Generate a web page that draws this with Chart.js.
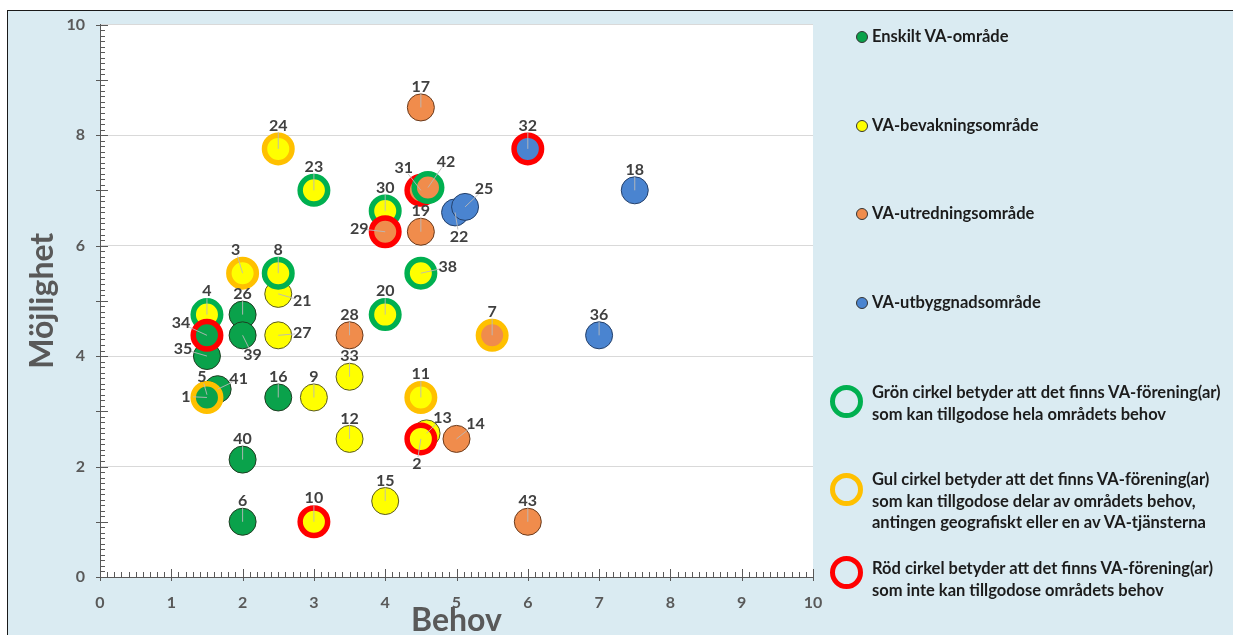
<!DOCTYPE html>
<html lang="sv">
<head>
<meta charset="UTF-8">
<title>Behov och möjlighet</title>
<script src="https://cdn.jsdelivr.net/npm/chart.js"></script>
<style>
  body { margin: 0; width: 1233px; height: 635px; overflow: hidden; background: #fff; position: relative; font-family: Lato, sans-serif; }
  #ram { position: absolute; left: 7px; top: 10px; width: 1240px; height: 640px; border: 1.5px solid #1a1a1a; background: #daebf2; }
  #wrap { position: absolute; left: 0; top: 0; width: 1233px; height: 635px; }
  .leg { position: absolute; left: 872px; font-weight: bold; font-size: 16.5px; color: #1c1c1c; line-height: 21.5px; white-space: nowrap; }
  .dot { position: absolute; left: 856px; width: 10px; height: 10px; border-radius: 50%; border: 1px solid #333; }
  .ring { position: absolute; left: 830px; width: 23px; height: 23px; border-radius: 50%; border: 5px solid; }
</style>
</head>
<body>
<div id="ram"></div>
<div id="wrap"><canvas id="diagram"></canvas></div>

<!-- förklaringar -->
<div class="dot" style="top:31px;background:#0aa24b"></div>
<div class="leg" style="top:26px">Enskilt VA-område</div>
<div class="dot" style="top:120px;background:#ffff00"></div>
<div class="leg" style="top:115px">VA-bevakningsområde</div>
<div class="dot" style="top:208px;background:#f08c4c"></div>
<div class="leg" style="top:203px">VA-utredningsområde</div>
<div class="dot" style="top:297px;background:#4a84d0"></div>
<div class="leg" style="top:292px">VA-utbyggnadsområde</div>

<div class="ring" style="top:385px;border-color:#00b050"></div>
<div class="leg" style="top:382px">Grön cirkel betyder att det finns VA-förening(ar)<br>som kan tillgodose hela områdets behov</div>
<div class="ring" style="top:473px;border-color:#ffc000"></div>
<div class="leg" style="top:469px">Gul cirkel betyder att det finns VA-förening(ar)<br>som kan tillgodose delar av områdets behov,<br>antingen geografiskt eller en av VA-tjänsterna</div>
<div class="ring" style="top:556px;border-color:#ff0000"></div>
<div class="leg" style="top:558px">Röd cirkel betyder att det finns VA-förening(ar)<br>som inte kan tillgodose områdets behov</div>

<script>
// [nr, behov, möjlighet] - ordningen styr vilken punkt som ritas överst
const enskilt = [
  [26, 2, 4.75], [39, 2, 4.375], [35, 1.5, 4], [34, 1.5, 4.375], [16, 2.5, 3.25],
  [41, 1.65, 3.4], [5, 1.5, 3.3], [1, 1.5, 3.25], [40, 2, 2.125], [6, 2, 1]
];
const bevakning = [
  [24, 2.5, 7.75], [3, 2, 5.5], [23, 3, 7], [21, 2.5, 5.125], [8, 2.5, 5.5], [4, 1.5, 4.75],
  [27, 2.5, 4.375], [9, 3, 3.25], [33, 3.5, 3.625], [20, 4, 4.75], [30, 4, 6.625], [38, 4.5, 5.5],
  [11, 4.5, 3.25], [12, 3.5, 2.5], [13, 4.58, 2.6], [2, 4.5, 2.5], [15, 4, 1.375], [10, 3, 1]
];
const utredning = [
  [17, 4.5, 8.5], [19, 4.5, 6.25], [29, 4, 6.25], [31, 4.5, 7], [42, 4.6, 7.05],
  [28, 3.5, 4.375], [7, 5.5, 4.375], [14, 5, 2.5], [43, 6, 1]
];
const utbyggnad = [
  [32, 6, 7.75], [18, 7.5, 7], [22, 4.98, 6.6], [25, 5.12, 6.7], [36, 7, 4.375]
];

// VA-föreningar
const gronCirkel = [4, 8, 20, 23, 30, 38, 42];
const gulCirkel = [1, 3, 7, 11, 24];
const rodCirkel = [2, 10, 29, 31, 32, 34];

const axelMin = 0, axelMax = 10;
const xSteg = 1, ySteg = 2;

function ringFarg(nr) {
  if (gronCirkel.includes(nr)) return '#00b050';
  if (gulCirkel.includes(nr)) return '#ffc000';
  if (rodCirkel.includes(nr)) return '#ff0000';
  return null;
}

function serie(namn, punkter, fyll, kant, order) {
  return {
    label: namn,
    data: punkter.map(p => ({ x: p[1], y: p[2], nr: p[0] })),
    order: order,
    showLine: false,
    pointBackgroundColor: fyll,
    pointRadius: c => (c.raw && ringFarg(c.raw.nr)) ? 13.75 : 13.5,
    pointBorderWidth: c => (c.raw && ringFarg(c.raw.nr)) ? 5.5 : 1,
    pointBorderColor: c => (c.raw && ringFarg(c.raw.nr)) || kant
  };
}

// etikettplacering (dx, dy) i pixlar, annars ovanför punkten
const placering = {
  1: [-21, -1], 5: [-5, -18], 41: [21, -10], 34: [-26, -12], 35: [-24, -7], 39: [10, 20],
  3: [-7, null], 21: [24, 7], 27: [24, -2], 29: [-26, -3], 31: [-17, -22], 42: [18, -26],
  22: [4, 24], 25: [19, -18], 38: [27, -6], 13: [16, -16], 2: [-4, 25], 14: [19, -15]
};

const bakgrund = {
  id: 'bakgrund',
  beforeDraw(chart) {
    const { ctx, chartArea: a } = chart;
    ctx.save();
    ctx.fillStyle = '#ffffff';
    ctx.fillRect(a.left, a.top, a.right - a.left, a.bottom - a.top);
    ctx.restore();
  }
};

// små streck längs axlarna
const streck = {
  id: 'streck',
  beforeDatasetsDraw(chart) {
    const { ctx, scales: { x, y }, chartArea: a } = chart;
    ctx.save();
    ctx.strokeStyle = '#595959';
    ctx.lineWidth = 1;
    ctx.beginPath();
    for (let i = 0; i <= 100; i++) {
      const stor = i % 10 === 0;
      const py = Math.round(y.getPixelForValue(i / 10)) + 0.5;
      ctx.moveTo(a.left - (stor ? 4 : 0), py);
      ctx.lineTo(a.left + (stor ? 8 : 5), py);
      const px = Math.round(x.getPixelForValue(i / 10)) + 0.5;
      ctx.moveTo(px, a.bottom + (stor ? 4 : 0));
      ctx.lineTo(px, a.bottom - (stor ? 8 : 5));
    }
    ctx.stroke();
    ctx.restore();
  }
};

const etiketter = {
  id: 'etiketter',
  afterDatasetsDraw(chart) {
    const { ctx } = chart;
    ctx.save();
    ctx.font = 'bold 16px Lato, sans-serif';
    ctx.textAlign = 'center';
    ctx.textBaseline = 'middle';
    chart.data.datasets.forEach((ds, di) => {
      chart.getDatasetMeta(di).data.forEach((el, i) => {
        const nr = ds.data[i].nr;
        const r = ringFarg(nr) ? 16.5 : 13.5;
        const p = placering[nr] || [0, null];
        const dx = p[0];
        const dy = p[1] === null ? -(r + 7) : p[1];
        const lx = el.x + dx, ly = el.y + dy;
        // hänvisningslinje
        const len = Math.hypot(dx, dy);
        const k = Math.max(0, (len - 7) / len);
        ctx.strokeStyle = 'rgba(185,185,185,0.9)';
        ctx.lineWidth = 1;
        ctx.beginPath();
        ctx.moveTo(el.x, el.y);
        ctx.lineTo(el.x + dx * k, el.y + dy * k);
        ctx.stroke();
        ctx.fillStyle = '#404040';
        ctx.fillText(String(nr), lx, ly);
      });
    });
    ctx.restore();
  }
};

new Chart(document.getElementById('diagram'), {
  type: 'scatter',
  data: {
    datasets: [
      serie('Enskilt VA-område', enskilt, '#0aa24b', '#1f3d22', 2),
      serie('VA-bevakningsområde', bevakning, '#ffff00', '#5a5a20', 4),
      serie('VA-utredningsområde', utredning, '#f08c4c', '#6a3a1c', 3),
      serie('VA-utbyggnadsområde', utbyggnad, '#4a84d0', '#24406a', 1)
    ]
  },
  options: {
    responsive: true,
    maintainAspectRatio: false,
    animation: false,
    events: [],
    layout: { padding: { left: 0, right: 420, top: 23, bottom: 0 } },
    plugins: { legend: { display: false }, tooltip: { enabled: false } },
    scales: {
      x: {
        type: 'linear',
        min: axelMin, max: axelMax,
        afterFit: s => { s.height = 58; },
        ticks: { stepSize: xSteg, padding: 8, color: '#595959', font: { family: 'Lato', size: 16, weight: 'bold' } },
        grid: { display: false },
        border: { display: true, color: '#595959', width: 1 },
        title: { display: true, text: 'Behov', color: '#595959', padding: { top: 0, bottom: -5 },
                 font: { family: 'Lato', size: 32, weight: 'bold' } }
      },
      y: {
        type: 'linear',
        min: axelMin, max: axelMax,
        afterFit: s => { s.width = 100; },
        ticks: { stepSize: ySteg, padding: 15, color: '#595959', font: { family: 'Lato', size: 16, weight: 'bold' } },
        grid: { color: '#d9d9d9', drawTicks: false },
        border: { display: true, color: '#595959', width: 1 },
        title: { display: true, text: 'Möjlighet', color: '#595959', padding: { top: 23, bottom: 0 },
                 font: { family: 'Lato', size: 32, weight: 'bold' } }
      }
    }
  },
  plugins: [bakgrund, streck, etiketter]
});
</script>
</body>
</html>
